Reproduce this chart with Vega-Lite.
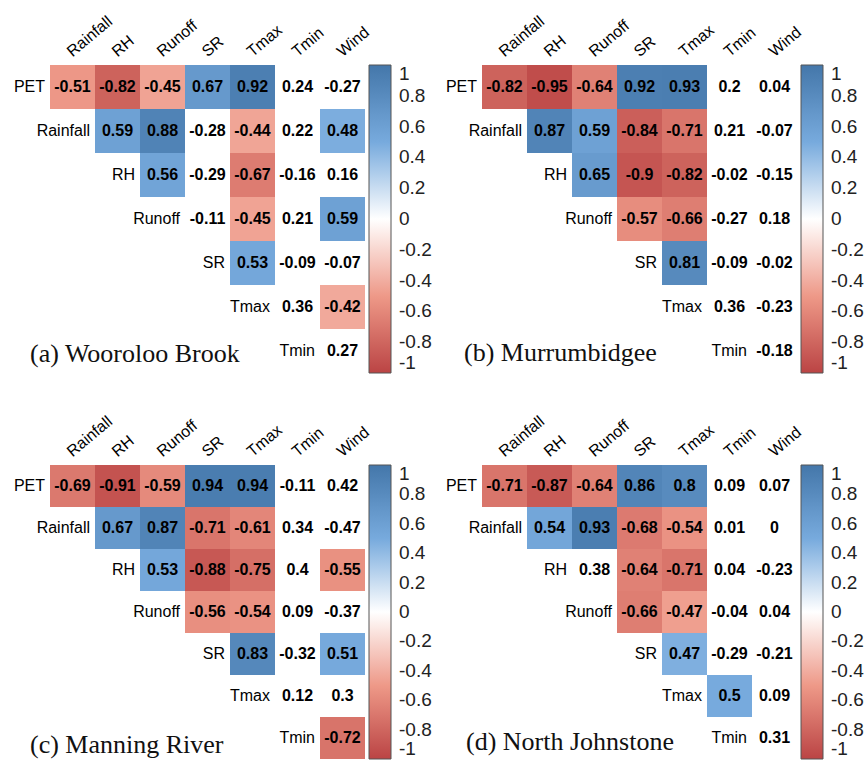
{
  "$schema": "https://vega.github.io/schema/vega-lite/v6.json",
  "background": "white",
  "padding": {"left": 5, "top": 12, "right": 0, "bottom": 0},
  "datasets": {
    "vars": [
      {"name": "PET"}, {"name": "Rainfall"}, {"name": "RH"}, {"name": "Runoff"},
      {"name": "SR"}, {"name": "Tmax"}, {"name": "Tmin"}
    ],
    "wooroloo": [
      {"row": "PET", "col": "Rainfall", "r": -0.51, "sig": true},
      {"row": "PET", "col": "RH", "r": -0.82, "sig": true},
      {"row": "PET", "col": "Runoff", "r": -0.45, "sig": true},
      {"row": "PET", "col": "SR", "r": 0.67, "sig": true},
      {"row": "PET", "col": "Tmax", "r": 0.92, "sig": true},
      {"row": "PET", "col": "Tmin", "r": 0.24, "sig": false},
      {"row": "PET", "col": "Wind", "r": -0.27, "sig": false},
      {"row": "Rainfall", "col": "RH", "r": 0.59, "sig": true},
      {"row": "Rainfall", "col": "Runoff", "r": 0.88, "sig": true},
      {"row": "Rainfall", "col": "SR", "r": -0.28, "sig": false},
      {"row": "Rainfall", "col": "Tmax", "r": -0.44, "sig": true},
      {"row": "Rainfall", "col": "Tmin", "r": 0.22, "sig": false},
      {"row": "Rainfall", "col": "Wind", "r": 0.48, "sig": true},
      {"row": "RH", "col": "Runoff", "r": 0.56, "sig": true},
      {"row": "RH", "col": "SR", "r": -0.29, "sig": false},
      {"row": "RH", "col": "Tmax", "r": -0.67, "sig": true},
      {"row": "RH", "col": "Tmin", "r": -0.16, "sig": false},
      {"row": "RH", "col": "Wind", "r": 0.16, "sig": false},
      {"row": "Runoff", "col": "SR", "r": -0.11, "sig": false},
      {"row": "Runoff", "col": "Tmax", "r": -0.45, "sig": true},
      {"row": "Runoff", "col": "Tmin", "r": 0.21, "sig": false},
      {"row": "Runoff", "col": "Wind", "r": 0.59, "sig": true},
      {"row": "SR", "col": "Tmax", "r": 0.53, "sig": true},
      {"row": "SR", "col": "Tmin", "r": -0.09, "sig": false},
      {"row": "SR", "col": "Wind", "r": -0.07, "sig": false},
      {"row": "Tmax", "col": "Tmin", "r": 0.36, "sig": false},
      {"row": "Tmax", "col": "Wind", "r": -0.42, "sig": true},
      {"row": "Tmin", "col": "Wind", "r": 0.27, "sig": false}
    ],
    "murrumbidgee": [
      {"row": "PET", "col": "Rainfall", "r": -0.82, "sig": true},
      {"row": "PET", "col": "RH", "r": -0.95, "sig": true},
      {"row": "PET", "col": "Runoff", "r": -0.64, "sig": true},
      {"row": "PET", "col": "SR", "r": 0.92, "sig": true},
      {"row": "PET", "col": "Tmax", "r": 0.93, "sig": true},
      {"row": "PET", "col": "Tmin", "r": 0.2, "sig": false},
      {"row": "PET", "col": "Wind", "r": 0.04, "sig": false},
      {"row": "Rainfall", "col": "RH", "r": 0.87, "sig": true},
      {"row": "Rainfall", "col": "Runoff", "r": 0.59, "sig": true},
      {"row": "Rainfall", "col": "SR", "r": -0.84, "sig": true},
      {"row": "Rainfall", "col": "Tmax", "r": -0.71, "sig": true},
      {"row": "Rainfall", "col": "Tmin", "r": 0.21, "sig": false},
      {"row": "Rainfall", "col": "Wind", "r": -0.07, "sig": false},
      {"row": "RH", "col": "Runoff", "r": 0.65, "sig": true},
      {"row": "RH", "col": "SR", "r": -0.9, "sig": true},
      {"row": "RH", "col": "Tmax", "r": -0.82, "sig": true},
      {"row": "RH", "col": "Tmin", "r": -0.02, "sig": false},
      {"row": "RH", "col": "Wind", "r": -0.15, "sig": false},
      {"row": "Runoff", "col": "SR", "r": -0.57, "sig": true},
      {"row": "Runoff", "col": "Tmax", "r": -0.66, "sig": true},
      {"row": "Runoff", "col": "Tmin", "r": -0.27, "sig": false},
      {"row": "Runoff", "col": "Wind", "r": 0.18, "sig": false},
      {"row": "SR", "col": "Tmax", "r": 0.81, "sig": true},
      {"row": "SR", "col": "Tmin", "r": -0.09, "sig": false},
      {"row": "SR", "col": "Wind", "r": -0.02, "sig": false},
      {"row": "Tmax", "col": "Tmin", "r": 0.36, "sig": false},
      {"row": "Tmax", "col": "Wind", "r": -0.23, "sig": false},
      {"row": "Tmin", "col": "Wind", "r": -0.18, "sig": false}
    ],
    "manning": [
      {"row": "PET", "col": "Rainfall", "r": -0.69, "sig": true},
      {"row": "PET", "col": "RH", "r": -0.91, "sig": true},
      {"row": "PET", "col": "Runoff", "r": -0.59, "sig": true},
      {"row": "PET", "col": "SR", "r": 0.94, "sig": true},
      {"row": "PET", "col": "Tmax", "r": 0.94, "sig": true},
      {"row": "PET", "col": "Tmin", "r": -0.11, "sig": false},
      {"row": "PET", "col": "Wind", "r": 0.42, "sig": false},
      {"row": "Rainfall", "col": "RH", "r": 0.67, "sig": true},
      {"row": "Rainfall", "col": "Runoff", "r": 0.87, "sig": true},
      {"row": "Rainfall", "col": "SR", "r": -0.71, "sig": true},
      {"row": "Rainfall", "col": "Tmax", "r": -0.61, "sig": true},
      {"row": "Rainfall", "col": "Tmin", "r": 0.34, "sig": false},
      {"row": "Rainfall", "col": "Wind", "r": -0.47, "sig": false},
      {"row": "RH", "col": "Runoff", "r": 0.53, "sig": true},
      {"row": "RH", "col": "SR", "r": -0.88, "sig": true},
      {"row": "RH", "col": "Tmax", "r": -0.75, "sig": true},
      {"row": "RH", "col": "Tmin", "r": 0.4, "sig": false},
      {"row": "RH", "col": "Wind", "r": -0.55, "sig": true},
      {"row": "Runoff", "col": "SR", "r": -0.56, "sig": true},
      {"row": "Runoff", "col": "Tmax", "r": -0.54, "sig": true},
      {"row": "Runoff", "col": "Tmin", "r": 0.09, "sig": false},
      {"row": "Runoff", "col": "Wind", "r": -0.37, "sig": false},
      {"row": "SR", "col": "Tmax", "r": 0.83, "sig": true},
      {"row": "SR", "col": "Tmin", "r": -0.32, "sig": false},
      {"row": "SR", "col": "Wind", "r": 0.51, "sig": true},
      {"row": "Tmax", "col": "Tmin", "r": 0.12, "sig": false},
      {"row": "Tmax", "col": "Wind", "r": 0.3, "sig": false},
      {"row": "Tmin", "col": "Wind", "r": -0.72, "sig": true}
    ],
    "johnstone": [
      {"row": "PET", "col": "Rainfall", "r": -0.71, "sig": true},
      {"row": "PET", "col": "RH", "r": -0.87, "sig": true},
      {"row": "PET", "col": "Runoff", "r": -0.64, "sig": true},
      {"row": "PET", "col": "SR", "r": 0.86, "sig": true},
      {"row": "PET", "col": "Tmax", "r": 0.8, "sig": true},
      {"row": "PET", "col": "Tmin", "r": 0.09, "sig": false},
      {"row": "PET", "col": "Wind", "r": 0.07, "sig": false},
      {"row": "Rainfall", "col": "RH", "r": 0.54, "sig": true},
      {"row": "Rainfall", "col": "Runoff", "r": 0.93, "sig": true},
      {"row": "Rainfall", "col": "SR", "r": -0.68, "sig": true},
      {"row": "Rainfall", "col": "Tmax", "r": -0.54, "sig": true},
      {"row": "Rainfall", "col": "Tmin", "r": 0.01, "sig": false},
      {"row": "Rainfall", "col": "Wind", "r": 0, "sig": false},
      {"row": "RH", "col": "Runoff", "r": 0.38, "sig": false},
      {"row": "RH", "col": "SR", "r": -0.64, "sig": true},
      {"row": "RH", "col": "Tmax", "r": -0.71, "sig": true},
      {"row": "RH", "col": "Tmin", "r": 0.04, "sig": false},
      {"row": "RH", "col": "Wind", "r": -0.23, "sig": false},
      {"row": "Runoff", "col": "SR", "r": -0.66, "sig": true},
      {"row": "Runoff", "col": "Tmax", "r": -0.47, "sig": true},
      {"row": "Runoff", "col": "Tmin", "r": -0.04, "sig": false},
      {"row": "Runoff", "col": "Wind", "r": 0.04, "sig": false},
      {"row": "SR", "col": "Tmax", "r": 0.47, "sig": true},
      {"row": "SR", "col": "Tmin", "r": -0.29, "sig": false},
      {"row": "SR", "col": "Wind", "r": -0.21, "sig": false},
      {"row": "Tmax", "col": "Tmin", "r": 0.5, "sig": true},
      {"row": "Tmax", "col": "Wind", "r": 0.09, "sig": false},
      {"row": "Tmin", "col": "Wind", "r": 0.31, "sig": false}
    ]
  },
  "columns": 2,
  "spacing": {"row": 92, "column": 72},
  "bounds": "flush",
  "resolve": {"scale": {"color": "independent"}},
  "concat": [
    {
      "width": 360, "height": 308,
      "title": {"text": "(a) Wooroloo Brook", "orient": "bottom", "anchor": "start", "frame": "group", "offset": 0, "baseline": "alphabetic", "dx": 25, "dy": -12},
      "layer": [
        {
          "data": {"name": "wooroloo"},
          "transform": [{"filter": "datum.sig"}],
          "mark": {"type": "rect"},
          "encoding": {
            "x": {"field": "col", "type": "nominal", "scale": {"domain": ["PET", "Rainfall", "RH", "Runoff", "SR", "Tmax", "Tmin", "Wind"], "paddingInner": 0, "paddingOuter": 0}, "axis": {"title": null, "orient": "top", "labelExpr": "datum.value == 'PET' ? '' : datum.value"}},
            "y": {"field": "row", "type": "nominal", "scale": {"domain": ["PET", "Rainfall", "RH", "Runoff", "SR", "Tmax", "Tmin"], "paddingInner": 0, "paddingOuter": 0}, "axis": null},
            "color": {"field": "r", "type": "quantitative",
              "scale": {"domain": [-1, -0.5, 0, 0.5, 1], "range": ["#BB4444", "#EE9988", "#FFFFFF", "#77AADD", "#4477AA"], "interpolate": "rgb"},
              "legend": {"values": [1, 0.8, 0.6, 0.4, 0.2, 0, -0.2, -0.4, -0.6, -0.8, -1], "gradientLength": 308, "labelOffset": 8, "labelExpr": "toString(datum.value)"}}
          }
        },
        {
          "data": {"name": "wooroloo"},
          "mark": {"type": "text", "font": "Liberation Sans", "fontSize": 16, "fontWeight": "bold", "color": "#000000"},
          "encoding": {
            "x": {"field": "col", "type": "nominal", "axis": {"title": null, "orient": "top", "labelExpr": "datum.value == 'PET' ? '' : datum.value"}},
            "y": {"field": "row", "type": "nominal", "axis": null},
            "text": {"field": "r", "type": "nominal"}
          }
        },
        {
          "data": {"name": "vars"},
          "mark": {"type": "text", "font": "Liberation Sans", "fontSize": 16, "align": "right", "dx": -5, "color": "#000000"},
          "encoding": {
            "x": {"field": "name", "type": "nominal", "bandPosition": 1, "axis": {"title": null, "orient": "top", "labelExpr": "datum.value == 'PET' ? '' : datum.value"}},
            "y": {"field": "name", "type": "nominal", "axis": null},
            "text": {"field": "name", "type": "nominal"}
          }
        }
      ]
    },
    {
      "width": 360, "height": 308,
      "title": {"text": "(b) Murrumbidgee", "orient": "bottom", "anchor": "start", "frame": "group", "offset": 0, "baseline": "alphabetic", "dx": 27, "dy": -13},
      "layer": [
        {
          "data": {"name": "murrumbidgee"},
          "transform": [{"filter": "datum.sig"}],
          "mark": {"type": "rect"},
          "encoding": {
            "x": {"field": "col", "type": "nominal", "scale": {"domain": ["PET", "Rainfall", "RH", "Runoff", "SR", "Tmax", "Tmin", "Wind"], "paddingInner": 0, "paddingOuter": 0}, "axis": {"title": null, "orient": "top", "labelExpr": "datum.value == 'PET' ? '' : datum.value"}},
            "y": {"field": "row", "type": "nominal", "scale": {"domain": ["PET", "Rainfall", "RH", "Runoff", "SR", "Tmax", "Tmin"], "paddingInner": 0, "paddingOuter": 0}, "axis": null},
            "color": {"field": "r", "type": "quantitative",
              "scale": {"domain": [-1, -0.5, 0, 0.5, 1], "range": ["#BB4444", "#EE9988", "#FFFFFF", "#77AADD", "#4477AA"], "interpolate": "rgb"},
              "legend": {"values": [1, 0.8, 0.6, 0.4, 0.2, 0, -0.2, -0.4, -0.6, -0.8, -1], "gradientLength": 308, "labelOffset": 8, "labelExpr": "toString(datum.value)"}}
          }
        },
        {
          "data": {"name": "murrumbidgee"},
          "mark": {"type": "text", "font": "Liberation Sans", "fontSize": 16, "fontWeight": "bold", "color": "#000000"},
          "encoding": {
            "x": {"field": "col", "type": "nominal", "axis": {"title": null, "orient": "top", "labelExpr": "datum.value == 'PET' ? '' : datum.value"}},
            "y": {"field": "row", "type": "nominal", "axis": null},
            "text": {"field": "r", "type": "nominal"}
          }
        },
        {
          "data": {"name": "vars"},
          "mark": {"type": "text", "font": "Liberation Sans", "fontSize": 16, "align": "right", "dx": -5, "color": "#000000"},
          "encoding": {
            "x": {"field": "name", "type": "nominal", "bandPosition": 1, "axis": {"title": null, "orient": "top", "labelExpr": "datum.value == 'PET' ? '' : datum.value"}},
            "y": {"field": "name", "type": "nominal", "axis": null},
            "text": {"field": "name", "type": "nominal"}
          }
        }
      ]
    },
    {
      "width": 360, "height": 294,
      "title": {"text": "(c) Manning River", "orient": "bottom", "anchor": "start", "frame": "group", "offset": 0, "baseline": "alphabetic", "dx": 25, "dy": -7},
      "layer": [
        {
          "data": {"name": "manning"},
          "transform": [{"filter": "datum.sig"}],
          "mark": {"type": "rect"},
          "encoding": {
            "x": {"field": "col", "type": "nominal", "scale": {"domain": ["PET", "Rainfall", "RH", "Runoff", "SR", "Tmax", "Tmin", "Wind"], "paddingInner": 0, "paddingOuter": 0}, "axis": {"title": null, "orient": "top", "labelExpr": "datum.value == 'PET' ? '' : datum.value"}},
            "y": {"field": "row", "type": "nominal", "scale": {"domain": ["PET", "Rainfall", "RH", "Runoff", "SR", "Tmax", "Tmin"], "paddingInner": 0, "paddingOuter": 0}, "axis": null},
            "color": {"field": "r", "type": "quantitative",
              "scale": {"domain": [-1, -0.5, 0, 0.5, 1], "range": ["#BB4444", "#EE9988", "#FFFFFF", "#77AADD", "#4477AA"], "interpolate": "rgb"},
              "legend": {"values": [1, 0.8, 0.6, 0.4, 0.2, 0, -0.2, -0.4, -0.6, -0.8, -1], "gradientLength": 294, "labelOffset": 8, "labelExpr": "toString(datum.value)"}}
          }
        },
        {
          "data": {"name": "manning"},
          "mark": {"type": "text", "font": "Liberation Sans", "fontSize": 16, "fontWeight": "bold", "color": "#000000"},
          "encoding": {
            "x": {"field": "col", "type": "nominal", "axis": {"title": null, "orient": "top", "labelExpr": "datum.value == 'PET' ? '' : datum.value"}},
            "y": {"field": "row", "type": "nominal", "axis": null},
            "text": {"field": "r", "type": "nominal"}
          }
        },
        {
          "data": {"name": "vars"},
          "mark": {"type": "text", "font": "Liberation Sans", "fontSize": 16, "align": "right", "dx": -5, "color": "#000000"},
          "encoding": {
            "x": {"field": "name", "type": "nominal", "bandPosition": 1, "axis": {"title": null, "orient": "top", "labelExpr": "datum.value == 'PET' ? '' : datum.value"}},
            "y": {"field": "name", "type": "nominal", "axis": null},
            "text": {"field": "name", "type": "nominal"}
          }
        }
      ]
    },
    {
      "width": 360, "height": 294,
      "title": {"text": "(d) North Johnstone", "orient": "bottom", "anchor": "start", "frame": "group", "offset": 0, "baseline": "alphabetic", "dx": 29, "dy": -10},
      "layer": [
        {
          "data": {"name": "johnstone"},
          "transform": [{"filter": "datum.sig"}],
          "mark": {"type": "rect"},
          "encoding": {
            "x": {"field": "col", "type": "nominal", "scale": {"domain": ["PET", "Rainfall", "RH", "Runoff", "SR", "Tmax", "Tmin", "Wind"], "paddingInner": 0, "paddingOuter": 0}, "axis": {"title": null, "orient": "top", "labelExpr": "datum.value == 'PET' ? '' : datum.value"}},
            "y": {"field": "row", "type": "nominal", "scale": {"domain": ["PET", "Rainfall", "RH", "Runoff", "SR", "Tmax", "Tmin"], "paddingInner": 0, "paddingOuter": 0}, "axis": null},
            "color": {"field": "r", "type": "quantitative",
              "scale": {"domain": [-1, -0.5, 0, 0.5, 1], "range": ["#BB4444", "#EE9988", "#FFFFFF", "#77AADD", "#4477AA"], "interpolate": "rgb"},
              "legend": {"values": [1, 0.8, 0.6, 0.4, 0.2, 0, -0.2, -0.4, -0.6, -0.8, -1], "gradientLength": 294, "labelOffset": 8, "labelExpr": "toString(datum.value)"}}
          }
        },
        {
          "data": {"name": "johnstone"},
          "mark": {"type": "text", "font": "Liberation Sans", "fontSize": 16, "fontWeight": "bold", "color": "#000000"},
          "encoding": {
            "x": {"field": "col", "type": "nominal", "axis": {"title": null, "orient": "top", "labelExpr": "datum.value == 'PET' ? '' : datum.value"}},
            "y": {"field": "row", "type": "nominal", "axis": null},
            "text": {"field": "r", "type": "nominal"}
          }
        },
        {
          "data": {"name": "vars"},
          "mark": {"type": "text", "font": "Liberation Sans", "fontSize": 16, "align": "right", "dx": -5, "color": "#000000"},
          "encoding": {
            "x": {"field": "name", "type": "nominal", "bandPosition": 1, "axis": {"title": null, "orient": "top", "labelExpr": "datum.value == 'PET' ? '' : datum.value"}},
            "y": {"field": "name", "type": "nominal", "axis": null},
            "text": {"field": "name", "type": "nominal"}
          }
        }
      ]
    }
  ],
  "config": {
    "view": {"stroke": null},
    "axis": {
      "domain": false, "ticks": false, "grid": false,
      "labelFont": "Liberation Sans", "labelFontSize": 16, "labelColor": "#000000",
      "labelAngle": -40, "labelAlign": "left", "labelBaseline": "alphabetic",
      "labelPadding": 8, "labelOverlap": false, "labelBound": false
    },
    "legend": {
      "title": null, "orient": "right", "offset": 4, "padding": 0,
      "direction": "vertical", "gradientThickness": 22,
      "gradientStrokeColor": "#555555", "gradientStrokeWidth": 1,
      "labelFont": "Liberation Sans", "labelFontSize": 19, "labelColor": "#222222",
      "labelAlign": "right", "labelOverlap": false
    },
    "title": {"font": "Liberation Serif", "fontSize": 26, "fontWeight": "normal", "color": "#111111"}
  }
}
